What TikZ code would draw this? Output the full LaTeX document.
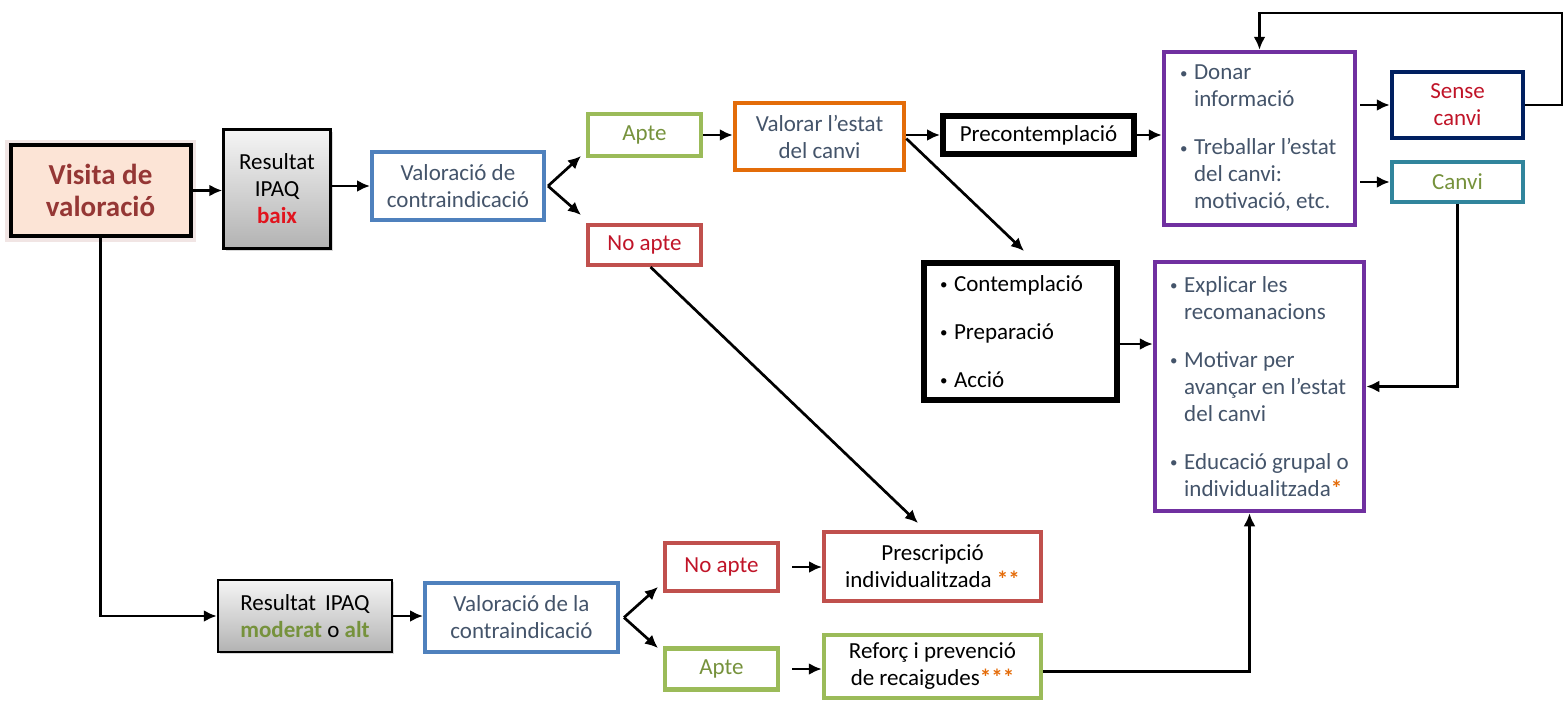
\documentclass[tikz,border=0pt]{standalone}
\usepackage{fontspec}
\setmainfont{Carlito}
\usetikzlibrary{arrows.meta,shadows}
\definecolor{slate}{RGB}{68,84,106}
\definecolor{olive}{RGB}{118,146,60}
\definecolor{txtred}{RGB}{192,20,40}
\definecolor{baixred}{RGB}{225,20,30}
\definecolor{asterisk}{RGB}{228,108,10}
\definecolor{visred}{RGB}{149,55,53}
\definecolor{visfill}{RGB}{252,228,214}
\definecolor{bblue}{RGB}{79,129,189}
\definecolor{bgreen}{RGB}{155,187,89}
\definecolor{bred}{RGB}{192,80,77}
\definecolor{borange}{RGB}{227,108,9}
\definecolor{bpurple}{RGB}{112,48,160}
\definecolor{bnavy}{RGB}{0,32,96}
\definecolor{bteal}{RGB}{49,133,156}
\newcommand{\bul}{\makebox[14pt][l]{\raisebox{1.5pt}{\fontsize{15}{15}\selectfont\textbullet}}}
\newcommand{\ind}{\hspace*{14pt}}
\newcommand{\orast}[1]{{\bfseries\color{asterisk}#1}}
\begin{document}
\begin{tikzpicture}[x=1pt,y=-1pt,
  box/.style={draw, rectangle, inner sep=0pt, align=center, font=\fontsize{23}{27}\selectfont},
  sz/.style 2 args={minimum width=#1pt, minimum height=#2pt},
  graybox/.style={box, draw=black, line width=2.5pt, top color=black!4, bottom color=black!30,
     drop shadow={shadow xshift=2pt, shadow yshift=-2pt, opacity=0.3}},
  bluebox/.style={box, draw=bblue, line width=4pt, text=slate},
  greenbox/.style={box, draw=bgreen, line width=4.5pt, text=olive},
  redbox/.style={box, draw=bred, line width=4pt, text=txtred},
  blackbox/.style={box, draw=black, line width=6pt},
  purplebox/.style={box, draw=bpurple, line width=4.5pt, text=slate, align=left},
  arr/.style={-{Latex[length=13pt,width=12pt]}, line width=2.7pt, black},
]
\useasboundingbox (0,0) rectangle (1568,704);

% top row
\node[box, sz={180}{91}, draw=black, line width=4pt, fill=visfill, text=visred,
  preaction={draw=visred!60, line width=11pt, opacity=0.22},
  font=\fontsize{29}{32}\selectfont\bfseries] (visit) at (100.5,190.5) {Visita de\\valoració};
\node[graybox, sz={107}{119}] (res1) at (277,189) {Resultat\\IPAQ\\{\bfseries\color{baixred}baix}};
\node[bluebox, sz={172}{68}] (val1) at (458,186) {Valoració de\\contraindicació};
\node[greenbox, sz={113}{42}] (apte1) at (644.5,135) {Apte};
\node[redbox, sz={113}{40}] (noapte1) at (644.5,245) {No apte};
\node[box, draw=borange, line width=4.5pt, text=slate, sz={169}{67}] (valorar) at (819.5,136.5) {Valorar l’estat\\del canvi};
\node[blackbox, sz={191}{38}] (precon) at (1038.5,135) {Precontemplació};
\node[blackbox, sz={193}{137}, align=left] (contem) at (1020.5,331.5)
  {\makebox[161pt][l]{\bul Contemplació}\\[21pt]\bul Preparació\\[21pt]\bul Acció};
\node[purplebox, sz={191}{173}] (donar) at (1259.5,138.5)
  {\makebox[159pt][l]{\bul Donar}\\\ind informació\\[21pt]\bul Treballar l’estat\\\ind del canvi:\\\ind motivació, etc.};
\node[box, draw=bnavy, line width=4.5pt, text=txtred, sz={131}{66}] (sense) at (1457.5,105) {Sense\\canvi};
\node[box, draw=bteal, line width=4.5pt, text=olive, sz={131}{40}] (canvi) at (1457.5,182) {Canvi};
\node[purplebox, sz={209}{249}] (explicar) at (1259.5,386.5)
  {\makebox[176pt][l]{\bul Explicar les}\\\ind recomanacions\\[21pt]\bul Motivar per\\\ind avançar en l’estat\\\ind del canvi\\[21pt]\bul Educació grupal o\\\ind individualitzada\orast{*}};

% bottom row
\node[graybox, sz={174}{72}] (res2) at (305,616) {Resultat\, IPAQ\\{\bfseries\color{olive}moderat} o {\bfseries\color{olive}alt}};
\node[bluebox, sz={193}{69}] (val2) at (521.5,617.5) {Valoració de la\\contraindicació};
\node[redbox, sz={113}{48}] (noapte2) at (721.5,567) {No apte};
\node[greenbox, sz={113}{41}] (apte2) at (721.5,669) {Apte};
\node[box, draw=bred, line width=4pt, sz={217}{69}] (prescr) at (932.5,566.5) {Prescripció\\individualitzada \orast{**}};
\node[box, draw=bgreen, line width=4.5pt, sz={217}{63}] (reforc) at (932.5,666.5) {Reforç i prevenció\\de recaigudes\orast{***}};

% free ends
\coordinate (f1a) at (581,156);
\coordinate (f1b) at (581,215);
\coordinate (f2a) at (658,587);
\coordinate (f2b) at (658,648);
\coordinate (ctop) at (1024,251);
\coordinate (prtop) at (918,523);
\coordinate (loop) at (1562,13);

% connectors
\draw[arr] (visit.east) -- (visit.east -| res1.west);
\draw[arr] (val1.west -| res1.east) -- (val1.west);
\draw[arr] ([xshift=2pt]val1.east) -- (f1a);
\draw[arr] ([xshift=2pt]val1.east) -- (f1b);
\draw[arr] (apte1.east) -- (apte1.east -| valorar.west);
\draw[arr] (precon.west -| valorar.east) -- (precon.west);
\draw[arr] ([yshift=-2pt]valorar.east) -- (ctop);
\draw[arr] (precon.east) -- (precon.east -| donar.west);
\draw[arr] ([xshift=3pt]donar.east |- sense.west) -- (sense.west);
\draw[arr] ([xshift=3pt]donar.east |- canvi.west) -- (canvi.west);
\draw[arr] (sense.east) -| (loop) -| (donar.north);
\draw[arr] (canvi.south) |- (explicar.east);
\draw[arr] ([yshift=-12.5pt]contem.east) -- ([yshift=-12.5pt]contem.east -| explicar.west);
\draw[arr] ([xshift=6pt]noapte1.south) -- (prtop);
\draw[arr] (visit.south) |- (res2.west);
\draw[arr] (res2.east) -- (res2.east -| val2.west);
\draw[arr] ([xshift=4pt]val2.east) -- (f2a);
\draw[arr] ([xshift=4pt]val2.east) -- (f2b);
\draw[arr] ([xshift=12pt]noapte2.east) -- (noapte2.east -| prescr.west);
\draw[arr] ([xshift=12pt]apte2.east) -- (apte2.east -| reforc.west);
\draw[arr] ([yshift=-5pt]reforc.east) -| ([xshift=-10pt]explicar.south);
\end{tikzpicture}
\end{document}
